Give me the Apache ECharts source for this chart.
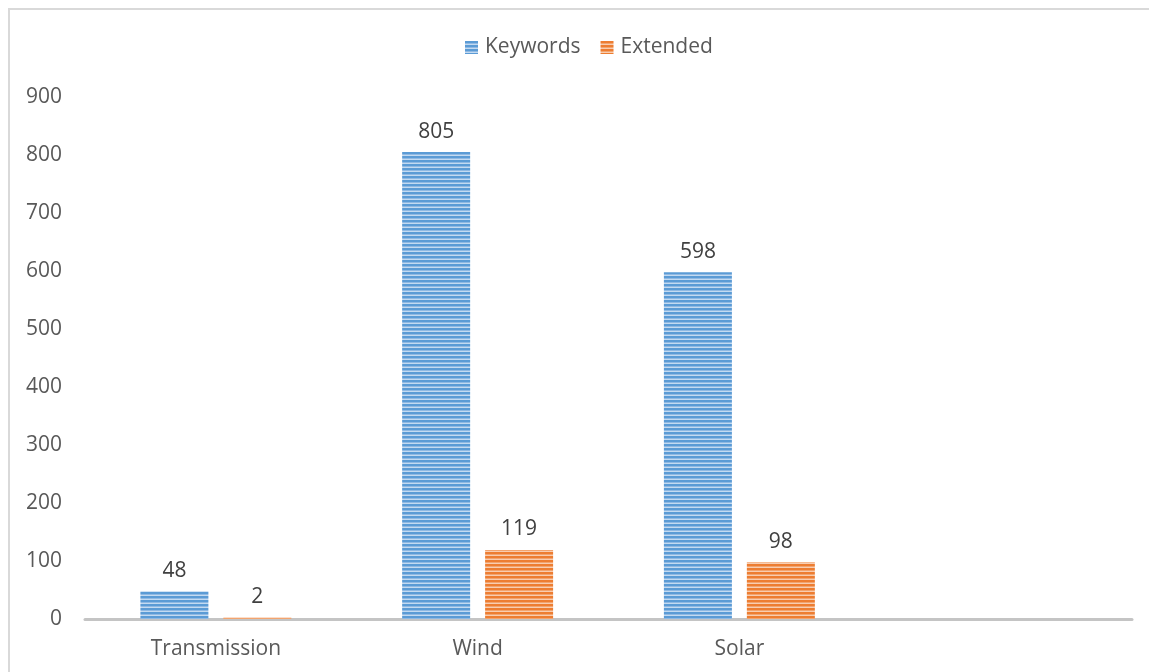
<!DOCTYPE html>
<html>
<head>
<meta charset="utf-8">
<script src="https://cdn.jsdelivr.net/npm/echarts@6/dist/echarts.min.js"></script>
<style>
  html, body { margin: 0; padding: 0; background: #fff; }
  #chart { width: 1149px; height: 672px; }
</style>
</head>
<body>
<div id="chart"></div>
<script>
const categories = ['Transmission', 'Wind', 'Solar', ''];
const keywords = [48, 805, 598, null];
const extended = [2, 119, 98, null];
const yTicks = { min: 0, max: 900, interval: 100 };

// Horizontal-stripe fill, built on a small canvas tile
function stripes(dark, mid, light) {
  const c = document.createElement('canvas');
  c.width = 4; c.height = 4;
  const g = c.getContext('2d');
  g.fillStyle = dark;  g.fillRect(0, 0, 4, 2);
  g.fillStyle = mid;   g.fillRect(0, 2, 4, 1);
  g.fillStyle = light; g.fillRect(0, 3, 4, 1);
  return { image: c, repeat: 'repeat' };
}
const bluePattern = stripes('#5b9bd5', '#8fb9e3', '#c3daf1');
const orangePattern = stripes('#ed7d31', '#f2a46f', '#f8cdb0');

const font = 'Open Sans';
const fs = 21;
const chart = echarts.init(document.getElementById('chart'));
chart.setOption({
  animation: false,
  textStyle: { fontFamily: font },
  graphic: [{
    type: 'rect',
    shape: { x: 9, y: 9, width: 1200, height: 700 },
    style: { fill: 'none', stroke: '#d9d9d9', lineWidth: 2 },
    silent: true
  }],
  legend: {
    top: 32,
    left: 460,
    itemWidth: 13,
    itemHeight: 13,
    itemGap: 20,
    icon: 'rect',
    textStyle: { fontSize: fs, color: '#595959', fontFamily: font, padding: [0, 0, 0, 2] },
    data: ['Keywords', 'Extended']
  },
  grid: { left: 85, right: 17, top: 97, bottom: 53 },
  xAxis: {
    type: 'category',
    data: categories,
    axisLine: { lineStyle: { color: '#c4c4c4', width: 3 } },
    axisTick: { show: false },
    axisLabel: { fontSize: fs, color: '#595959', margin: 20, fontFamily: font }
  },
  yAxis: {
    type: 'value',
    min: yTicks.min, max: yTicks.max, interval: yTicks.interval,
    axisLine: { show: false },
    axisTick: { show: false },
    splitLine: { show: false },
    axisLabel: { fontSize: fs, color: '#595959', margin: 23, fontFamily: font }
  },
  series: [
    {
      name: 'Keywords', type: 'bar', data: keywords,
      barWidth: 68, barGap: '22%',
      itemStyle: { color: bluePattern },
      label: { show: true, position: 'top', distance: 10, fontSize: fs, color: '#404040', fontFamily: font }
    },
    {
      name: 'Extended', type: 'bar', data: extended,
      barWidth: 68,
      itemStyle: { color: orangePattern },
      label: { show: true, position: 'top', distance: 10, fontSize: fs, color: '#404040', fontFamily: font }
    }
  ]
});
</script>
</body>
</html>
